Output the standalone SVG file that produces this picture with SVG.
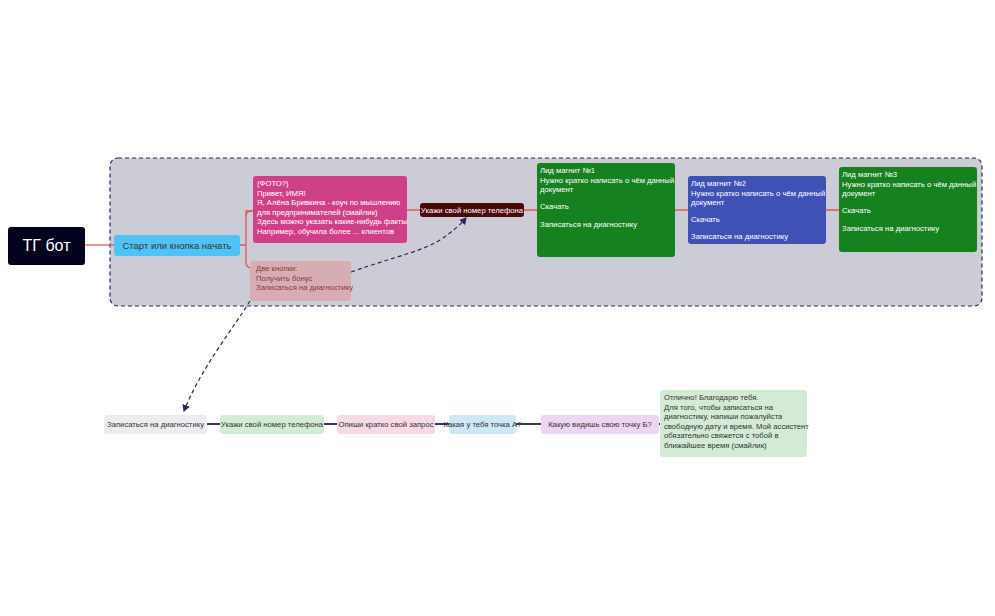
<svg xmlns="http://www.w3.org/2000/svg" width="995" height="616" viewBox="0 0 995 616">
<style>
text{font-family:"Liberation Sans",Arial,sans-serif;font-size:7.7px}
.w{fill:#fff}.d{fill:#333}
.red{stroke:#e05a5a;stroke-width:1.3;fill:none}
.dk{stroke:#3a3a5a;stroke-width:2;fill:none}
.dash{stroke:#2a2a55;stroke-width:1.2;fill:none;stroke-dasharray:4 3}
</style>
<defs><marker id="ah" markerWidth="8" markerHeight="8" refX="6" refY="4" orient="auto" markerUnits="userSpaceOnUse"><path d="M0,0 L7,4 L0,8 z" fill="#2a2a55"/></marker></defs>
<rect width="995" height="616" fill="#fff"/>
<g id="container"><rect x="110" y="158" width="872" height="148" rx="8" fill="#cbccd6" stroke="#2a2a55" stroke-width="1.2" stroke-dasharray="4 3"/></g>
<g id="connectors">
<path class="red" d="M85,245 H114"/>
<path class="red" d="M240,245 H246 M252,211 H246 Q246,211 246,217 V262 Q246,268 252,268"/>
<path class="red" d="M246,216 Q246,211 252,211 H253 M407,210 H420 M524,210 H537 M675,210 H688 M826,210 H839"/>
<path class="dash" d="M351,272 C400,255 420,252 440,240 C452,232 460,225 466,218" marker-end="url(#ah)"/>
<path class="dash" d="M250,301 C232,330 200,370 184,411" marker-end="url(#ah)"/>
<path class="dk" d="M207,424 H220 M324,424 H337 M435,424 H449 M516,424 H541 M659,424 H660"/>
</g>
<g id="n_tg"><rect x="8" y="227" width="77" height="38" rx="3" fill="#02021f"/><text x="46.5" y="251" class="w" text-anchor="middle" style="font-size:16px">ТГ бот</text></g>
<g id="n_start"><rect x="114" y="235" width="126" height="21" rx="3" fill="#4fc3f7"/><text x="177" y="249" class="d" text-anchor="middle" style="font-size:9.5px">Старт или кнопка начать</text></g>
<g id="n_hello"><rect x="253" y="176" width="154" height="67" rx="3" fill="#d04088"/><text class="w"><tspan x="257" y="186">(ФОТО?)</tspan><tspan x="257" y="195.5">Привет, ИМЯ!</tspan><tspan x="257" y="205">Я, Алёна Бривкина - коуч по мышлению</tspan><tspan x="257" y="214.5">для предпринимателей (смайлик)</tspan><tspan x="257" y="224">Здесь можно указать какие-нибудь факты.</tspan><tspan x="257" y="233.5">Например, обучила более ... клиентов</tspan></text></g>
<g id="n_two"><rect x="250" y="261" width="101" height="40" rx="3" fill="#d6adb3"/><text fill="#8a3a3a"><tspan x="256" y="271">Две кнопки:</tspan><tspan x="256" y="280.5">Получить бонус</tspan><tspan x="256" y="290">Записаться на диагностику</tspan></text></g>
<g id="n_phone"><rect x="420" y="203" width="104" height="14" rx="3" fill="#4a0808"/><text x="472" y="213" class="w" text-anchor="middle">Укажи свой номер телефона</text></g>
<g id="n_lid1"><rect x="537" y="163" width="138" height="94" rx="3" fill="#16821f"/><text class="w"><tspan x="540" y="173">Лид магнит №1</tspan><tspan x="540" y="182.5">Нужно кратко написать о чём данный</tspan><tspan x="540" y="192">документ</tspan><tspan x="540" y="209">Скачать</tspan><tspan x="540" y="227">Записаться на диагностику</tspan></text></g>
<g id="n_lid2"><rect x="688" y="176" width="138" height="68" rx="3" fill="#3f51b5"/><text class="w"><tspan x="691" y="186">Лид магнит №2</tspan><tspan x="691" y="195.5">Нужно кратко написать о чём данный</tspan><tspan x="691" y="205">документ</tspan><tspan x="691" y="222">Скачать</tspan><tspan x="691" y="239">Записаться на диагностику</tspan></text></g>
<g id="n_lid3"><rect x="839" y="167" width="138" height="85" rx="3" fill="#16821f"/><text class="w"><tspan x="842" y="177">Лид магнит №3</tspan><tspan x="842" y="186.5">Нужно кратко написать о чём данный</tspan><tspan x="842" y="196">документ</tspan><tspan x="842" y="213">Скачать</tspan><tspan x="842" y="231">Записаться на диагностику</tspan></text></g>
<g id="b_diag"><rect x="104" y="415" width="103" height="19" rx="3" fill="#ededf0"/><text x="155.5" y="427" class="d" text-anchor="middle">Записаться на диагностику</text></g>
<g id="b_phone"><rect x="220" y="415" width="104" height="19" rx="3" fill="#d3ecd5"/><text x="272" y="427" class="d" text-anchor="middle">Укажи свой номер телефона</text></g>
<g id="b_req"><rect x="337" y="415" width="98" height="19" rx="3" fill="#f8d9e6"/><text x="386" y="427" class="d" text-anchor="middle">Опиши кратко свой запрос</text></g>
<g id="b_a"><rect x="449" y="415" width="67" height="19" rx="3" fill="#cfe8f8"/><text x="482.5" y="427" class="d" text-anchor="middle">Какая у тебя точка А?</text></g>
<g id="b_b"><rect x="541" y="415" width="118" height="19" rx="3" fill="#ecd6f1"/><text x="600" y="427" class="d" text-anchor="middle">Какую видишь свою точку Б?</text></g>
<g id="b_final"><rect x="660" y="390" width="147" height="67" rx="3" fill="#d3ebd5"/><text class="d"><tspan x="664" y="400">Отлично! Благодарю тебя.</tspan><tspan x="664" y="409.5">Для того, чтобы записаться на</tspan><tspan x="664" y="419">диагностику, напиши пожалуйста</tspan><tspan x="664" y="428.5">свободную дату и время. Мой ассистент</tspan><tspan x="664" y="438">обязательно свяжется с тобой в</tspan><tspan x="664" y="447.5">ближайшее время (смайлик)</tspan></text></g>
</svg>
